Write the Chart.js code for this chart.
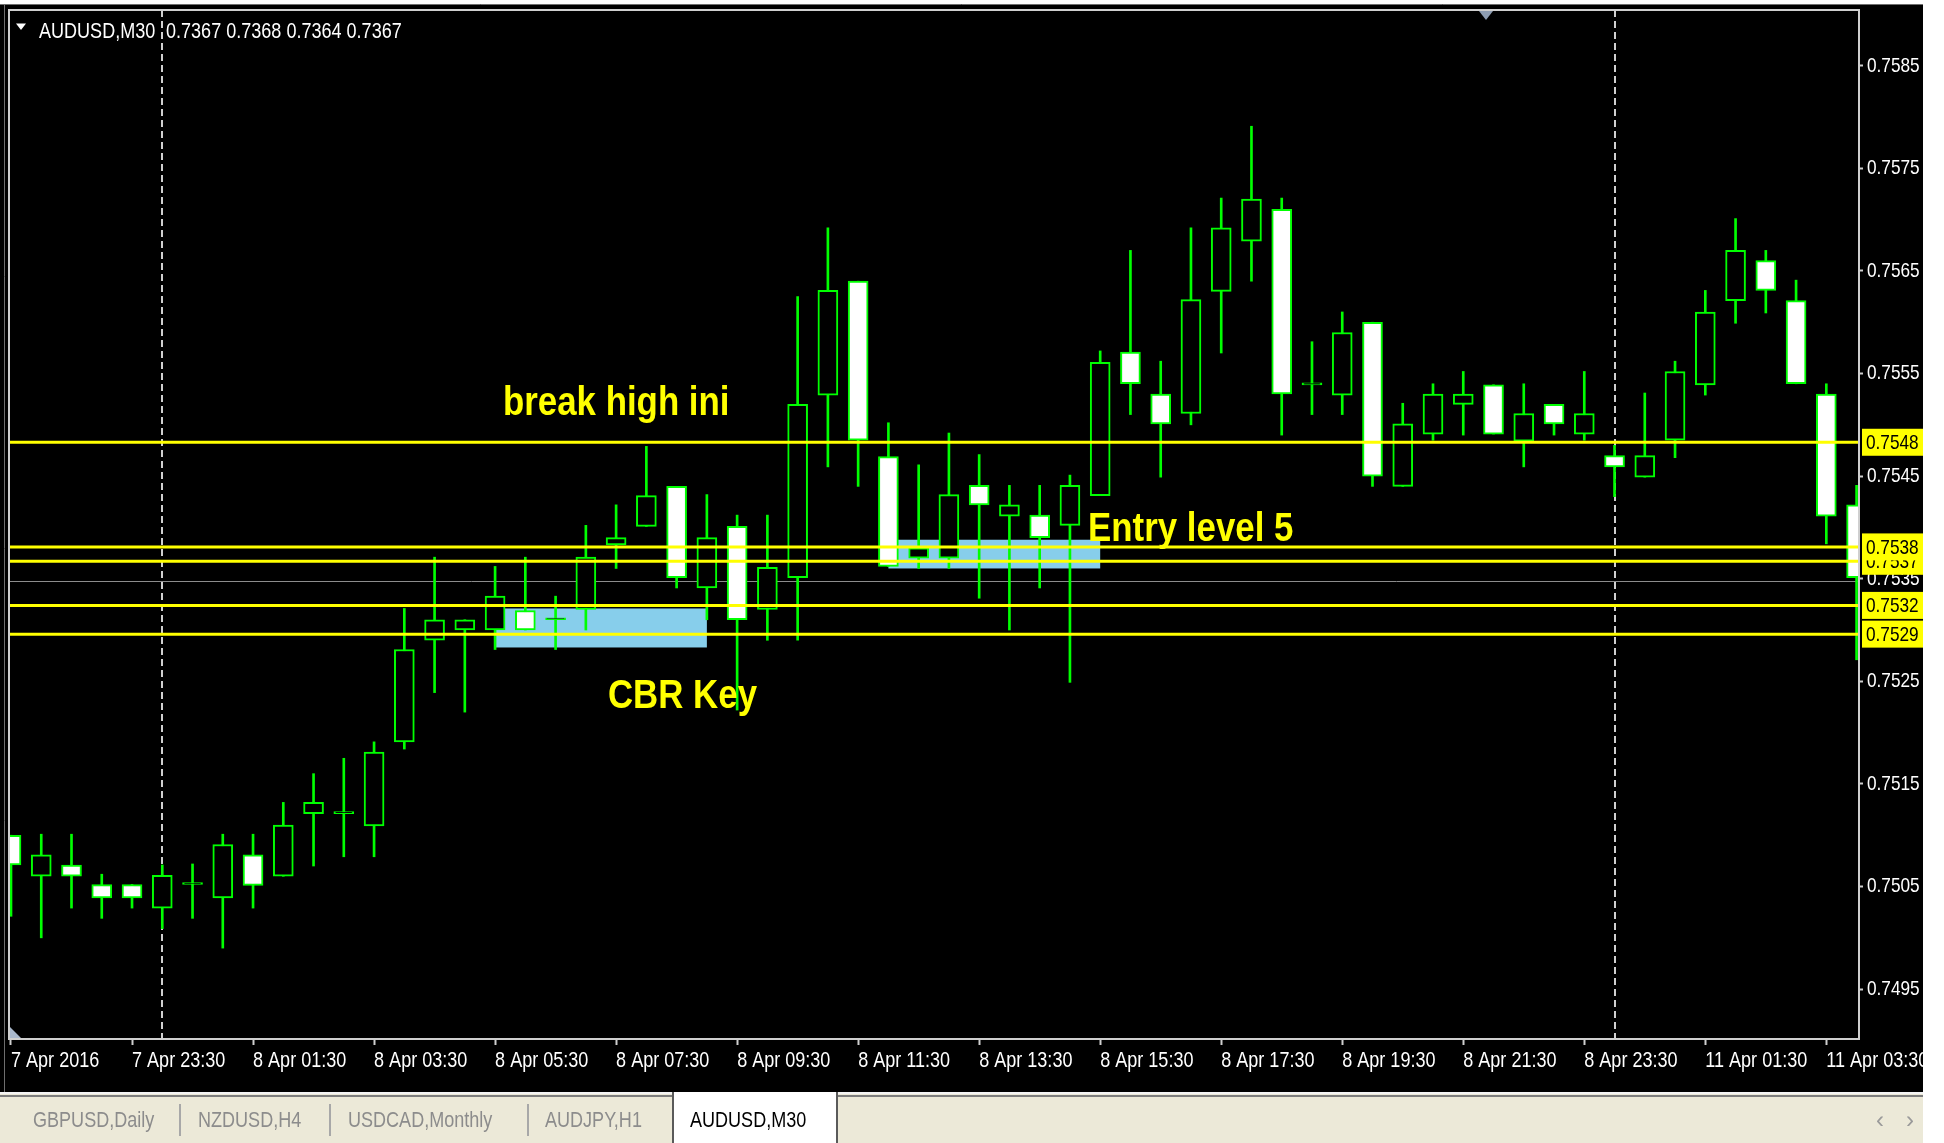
<!DOCTYPE html>
<html>
<head>
<meta charset="utf-8">
<script src="https://cdn.jsdelivr.net/npm/chart.js@4.4.1/dist/chart.umd.min.js"></script>
<style>
  html, body { margin:0; padding:0; background:#ffffff; width:1944px; height:1143px; overflow:hidden; }
  #wrap { position:absolute; left:0; top:0; width:1944px; height:1093px; }
  #c { display:block; }
  #tabbar { position:absolute; left:0; top:1092px; width:1923px; height:51px; background:#ece9d8;
            font-family:'Liberation Sans',Arial,sans-serif; font-size:22px; }
  #tabbar .hl { position:absolute; left:0; top:0; width:1923px; height:2px; background:#f4f4f4; }
  #tabbar .hl2 { position:absolute; left:0; top:3px; width:1923px; height:2px; background:#7d7d7d; }
  #tabbar .tab { position:absolute; top:0; line-height:56px; color:#8c8c8c; white-space:nowrap;
                 transform:scaleX(0.82); transform-origin:0 0; }
  #tabbar .sep { position:absolute; top:12px; width:2px; height:32px; background:#a8a8a8; }
  #tabbar .active { position:absolute; left:672px; top:0; width:162px; height:51px; background:#ffffff;
                    border-left:2px solid #5a5a5a; border-right:2px solid #5a5a5a; }
  #tabbar .active span { position:absolute; left:16px; top:0; line-height:56px; color:#000; white-space:nowrap;
                         transform:scaleX(0.82); transform-origin:0 0; }
  #tabbar .arrow { position:absolute; top:0; line-height:56px; color:#9a9a9a; font-size:24px; }
</style>
</head>
<body>
<div id="wrap"><canvas id="c" width="1944" height="1093"></canvas></div>
<div id="tabbar">
  <div class="hl"></div><div class="hl2"></div>
  <span class="tab" style="left:33px">GBPUSD,Daily</span>
  <div class="sep" style="left:179px"></div>
  <span class="tab" style="left:198px">NZDUSD,H4</span>
  <div class="sep" style="left:329px"></div>
  <span class="tab" style="left:348px">USDCAD,Monthly</span>
  <div class="sep" style="left:527px"></div>
  <span class="tab" style="left:545px">AUDJPY,H1</span>
  <div class="active"><span>AUDUSD,M30</span></div>
  <span class="arrow" style="left:1876px">‹</span>
  <span class="arrow" style="left:1906px">›</span>
</div>
<script>
// ---------------- DATA ----------------
const symbolTitle = 'AUDUSD,M30';
const ohlcTitle = '0.7367 0.7368 0.7364 0.7367';

// M30 bars, 7 Apr 2016 21:30 ... 11 Apr 2016 04:00
const open = [0.75100,0.75060,0.75071,0.75052,0.75052,0.75029,0.75052,0.75039,0.75081,0.75060,
  0.75121,0.75121,0.75109,0.75191,0.75290,0.75300,0.75300,0.75319,0.75310,0.75320,
  0.75383,0.75401,0.75440,0.75341,0.75401,0.75320,0.75351,0.75529,0.75640,0.75469,
  0.75370,0.75370,0.75441,0.75411,0.75412,0.75402,0.75431,0.75571,0.75530,0.75511,
  0.75630,0.75679,0.75710,0.75539,0.75529,0.75600,0.75440,0.75491,0.75520,0.75539,
  0.75484,0.75520,0.75491,0.75470,0.75449,0.75485,0.75539,0.75621,0.75660,0.75621,
  0.75530,0.75422];
const high = [0.75100,0.75101,0.75101,0.75062,0.75052,0.75071,0.75072,0.75101,0.75101,0.75132,
  0.75160,0.75175,0.75191,0.75321,0.75371,0.75310,0.75362,0.75371,0.75333,0.75402,
  0.75422,0.75479,0.75440,0.75432,0.75412,0.75412,0.75625,0.75692,0.75640,0.75502,
  0.75461,0.75492,0.75471,0.75441,0.75441,0.75451,0.75572,0.75670,0.75562,0.75692,
  0.75721,0.75791,0.75721,0.75581,0.75610,0.75600,0.75521,0.75540,0.75552,0.75539,
  0.75540,0.75520,0.75552,0.75480,0.75531,0.75562,0.75631,0.75701,0.75670,0.75641,
  0.75540,0.75441];
const low = [0.75021,0.75000,0.75029,0.75019,0.75029,0.75009,0.75019,0.74990,0.75029,0.75060,
  0.75070,0.75079,0.75079,0.75184,0.75239,0.75220,0.75281,0.75300,0.75281,0.75300,
  0.75360,0.75401,0.75341,0.75310,0.75222,0.75290,0.75290,0.75459,0.75440,0.75362,
  0.75360,0.75360,0.75331,0.75300,0.75341,0.75249,0.75431,0.75510,0.75449,0.75500,
  0.75570,0.75640,0.75490,0.75510,0.75510,0.75440,0.75440,0.75485,0.75490,0.75491,
  0.75459,0.75490,0.75485,0.75430,0.75449,0.75468,0.75529,0.75599,0.75609,0.75540,
  0.75384,0.75271];
const close = [0.75071,0.75081,0.75060,0.75039,0.75039,0.75061,0.75052,0.75091,0.75051,0.75110,
  0.75132,0.75121,0.75181,0.75281,0.75310,0.75310,0.75333,0.75300,0.75310,0.75371,
  0.75390,0.75431,0.75351,0.75390,0.75310,0.75361,0.75520,0.75631,0.75485,0.75362,
  0.75380,0.75432,0.75422,0.75422,0.75390,0.75441,0.75561,0.75540,0.75501,0.75622,
  0.75692,0.75720,0.75530,0.75539,0.75590,0.75450,0.75501,0.75530,0.75530,0.75491,
  0.75511,0.75501,0.75511,0.75459,0.75470,0.75552,0.75610,0.75670,0.75631,0.75540,
  0.75411,0.75351];

// time axis tick labels (every 4th bar)
const xTickIdx = [0,4,8,12,16,20,24,28,32,36,40,44,48,52,56,60];
const xTickLabels = ['7 Apr 2016','7 Apr 23:30','8 Apr 01:30','8 Apr 03:30','8 Apr 05:30','8 Apr 07:30',
  '8 Apr 09:30','8 Apr 11:30','8 Apr 13:30','8 Apr 15:30','8 Apr 17:30','8 Apr 19:30',
  '8 Apr 21:30','8 Apr 23:30','11 Apr 01:30','11 Apr 03:30'];
// price axis ticks
const yTickVals = [0.7495,0.7505,0.7515,0.7525,0.7535,0.7545,0.7555,0.7565,0.7575,0.7585];

// day separators (bar index of 00:00)
const sepIdx = [5, 53];
// horizontal levels
const levelVals = [0.75483, 0.75381, 0.75367, 0.75324, 0.75296];
const levelLabels = ['0.7548', '0.7538', '0.7537', '0.7532', '0.7529'];
const bidPrice = 0.75348;
// rectangles (bar index from/to, price top/bottom)
const zoneFrom = [16, 29];
const zoneTo = [23, 36];
const zoneTop = [0.75321, 0.75388];
const zoneBottom = [0.75283, 0.75360];
// text labels (anchor bar index, anchor price at baseline)
const noteText = ['break high ini', 'Entry level 5', 'CBR Key'];
const noteIdx = [16.26, 35.6, 19.73];
const notePrice = [0.755093, 0.753867, 0.75224];

// visible ranges
const X_MIN = -0.066, X_MAX = 61.08;
const Y_MIN = 0.749014, Y_MAX = 0.759043;

// ---------------- CHART ----------------
const FONT = "'Liberation Sans',Arial,sans-serif";
const LIME = '#00ff00';
const idx = open.map((_, i) => i);
const bodyData = idx.map(i => ({ x: i, y: [open[i], close[i]] }));
const wickData = idx.map(i => ({ x: i, y: [low[i], high[i]] }));
const bodyFill = idx.map(i => close[i] < open[i] ? '#ffffff' : '#000000');

// narrow terminal-style text: condense all canvas text horizontally
const canvas = document.getElementById('c');
const ctx2d = canvas.getContext('2d');
const nativeFill = ctx2d.fillText;
ctx2d.fillText = function (text, x, y) {
  const sx = /bold/.test(this.font) ? 0.85 : 0.82;
  this.save();
  this.translate(x, y);
  this.scale(sx, 1);
  nativeFill.call(this, text, 0, 0);
  this.restore();
};

const deco = {
  id: 'deco',
  beforeDraw(chart) {
    const ctx = chart.ctx;
    ctx.save();
    ctx.fillStyle = '#ffffff';
    ctx.fillRect(0, 0, chart.width, chart.height);
    ctx.fillStyle = '#000000';
    ctx.fillRect(0, 4, 1923, chart.height - 4);
    ctx.strokeStyle = '#6e6e6e';
    ctx.lineWidth = 1;
    ctx.beginPath(); ctx.moveTo(4.5, 4); ctx.lineTo(4.5, chart.height); ctx.stroke();
    ctx.beginPath(); ctx.moveTo(0, 4.5); ctx.lineTo(1923, 4.5); ctx.stroke();
    ctx.restore();
  },
  beforeDatasetsDraw(chart) {
    const { ctx, chartArea: a, scales: { x, y } } = chart;
    ctx.save();
    ctx.beginPath(); ctx.rect(a.left, a.top, a.right - a.left, a.bottom - a.top); ctx.clip();
    ctx.fillStyle = '#87ceeb';
    zoneFrom.forEach((f, k) => {
      const x1 = x.getPixelForValue(f), x2 = x.getPixelForValue(zoneTo[k]);
      const y1 = y.getPixelForValue(zoneTop[k]), y2 = y.getPixelForValue(zoneBottom[k]);
      ctx.fillRect(x1, y1, x2 - x1, y2 - y1);
    });
    ctx.strokeStyle = '#8c8c8c';
    ctx.lineWidth = 1;
    const by = Math.round(y.getPixelForValue(bidPrice)) + 0.5;
    ctx.beginPath(); ctx.moveTo(a.left, by); ctx.lineTo(a.right, by); ctx.stroke();
    ctx.strokeStyle = '#d0d0d0';
    ctx.lineWidth = 2;
    ctx.setLineDash([7, 4]);
    sepIdx.forEach(i => {
      const px = Math.round(x.getPixelForValue(i));
      ctx.beginPath(); ctx.moveTo(px, a.top); ctx.lineTo(px, a.bottom); ctx.stroke();
    });
    ctx.restore();
  },
  afterDatasetsDraw(chart) {
    const { ctx, chartArea: a, scales: { x, y } } = chart;
    ctx.save();
    ctx.beginPath(); ctx.rect(a.left, a.top, a.right - a.left, a.bottom - a.top); ctx.clip();
    ctx.strokeStyle = '#ffff00';
    ctx.lineWidth = 3;
    levelVals.forEach(v => {
      const py = y.getPixelForValue(v);
      ctx.beginPath(); ctx.moveTo(a.left, py); ctx.lineTo(a.right, py); ctx.stroke();
    });
    ctx.fillStyle = '#ffff00';
    ctx.font = 'bold 41px ' + FONT;
    ctx.textAlign = 'left';
    ctx.textBaseline = 'alphabetic';
    noteText.forEach((t, k) => {
      ctx.fillText(t, x.getPixelForValue(noteIdx[k]), y.getPixelForValue(notePrice[k]));
    });
    ctx.restore();
  },
  afterDraw(chart) {
    const { ctx, chartArea: a, scales: { y } } = chart;
    ctx.save();
    // frame
    ctx.strokeStyle = '#cfcfcf';
    ctx.lineWidth = 2;
    ctx.strokeRect(a.left, a.top, a.right - a.left, a.bottom - a.top);
    // level price tags on the axis
    const order = levelVals.map((v, k) => k).sort((p, q) => levelVals[p] - levelVals[q]);
    ctx.font = '21px ' + FONT;
    ctx.textAlign = 'left';
    ctx.textBaseline = 'middle';
    order.forEach(k => {
      const py = y.getPixelForValue(levelVals[k]);
      ctx.fillStyle = '#ffff00';
      ctx.fillRect(a.right + 3, py - 13.5, 61, 27);
      ctx.fillStyle = '#000000';
      ctx.fillText(levelLabels[k], a.right + 7, py + 1);
    });
    // title
    ctx.fillStyle = '#ffffff';
    ctx.beginPath(); ctx.moveTo(16, 23.5); ctx.lineTo(26, 23.5); ctx.lineTo(21, 30); ctx.closePath(); ctx.fill();
    ctx.font = '22px ' + FONT;
    ctx.textBaseline = 'alphabetic';
    ctx.fillText(symbolTitle, 39, 37.5);
    ctx.fillText(ohlcTitle, 166, 37.5);
    // small markers
    ctx.fillStyle = '#8e9db2';
    ctx.beginPath(); ctx.moveTo(1479, 11); ctx.lineTo(1493, 11); ctx.lineTo(1486, 20); ctx.closePath(); ctx.fill();
    ctx.fillStyle = '#a9b8cc';
    ctx.beginPath(); ctx.moveTo(a.left + 1, a.bottom - 12); ctx.lineTo(a.left + 1, a.bottom - 1); ctx.lineTo(a.left + 12, a.bottom - 1); ctx.closePath(); ctx.fill();
    ctx.restore();
  }
};

Chart.defaults.font.family = FONT;

new Chart(canvas, {
  type: 'bar',
  data: {
    datasets: [
      { label: 'body', data: bodyData, grouped: false, barPercentage: 1, categoryPercentage: 1,
        maxBarThickness: 20, minBarLength: 2, backgroundColor: bodyFill, borderColor: LIME,
        borderWidth: 2, borderSkipped: false, order: 0 },
      { label: 'wick', data: wickData, grouped: false, barPercentage: 1, categoryPercentage: 1,
        maxBarThickness: 2, backgroundColor: LIME, borderWidth: 0, order: 1 }
    ]
  },
  options: {
    responsive: false,
    animation: false,
    devicePixelRatio: 1,
    events: [],
    layout: { padding: { left: 9, top: 10, right: 21, bottom: 0 } },
    plugins: { legend: { display: false }, tooltip: { enabled: false } },
    scales: {
      x: {
        type: 'linear', position: 'bottom', min: X_MIN, max: X_MAX, offset: false, bounds: 'data',
        afterBuildTicks: s => { s.ticks = xTickIdx.map(v => ({ value: v })); },
        afterFit: s => { s.height = 54; s.paddingLeft = 0; s.paddingRight = 0; },
        ticks: { color: '#ffffff', font: { size: 22 }, autoSkip: false, maxRotation: 0, minRotation: 0,
                 align: 'start', padding: 3, callback: (v, i) => xTickLabels[i] },
        grid: { display: true, offset: false, drawOnChartArea: false, drawTicks: true, tickLength: 6,
                tickColor: '#cfcfcf', tickWidth: 2 },
        border: { display: false }
      },
      y: {
        type: 'linear', position: 'right', min: Y_MIN, max: Y_MAX, bounds: 'data',
        afterBuildTicks: s => { s.ticks = yTickVals.map(v => ({ value: v })); },
        afterFit: s => { s.width = 64; s.paddingTop = 0; s.paddingBottom = 0; },
        ticks: { color: '#ffffff', font: { size: 21 }, autoSkip: false, padding: 4,
                 callback: v => Number(v).toFixed(4) },
        grid: { display: true, drawOnChartArea: false, drawTicks: true, tickLength: 4,
                tickColor: '#cfcfcf', tickWidth: 2 },
        border: { display: false }
      }
    }
  },
  plugins: [deco]
});
</script>
</body>
</html>
